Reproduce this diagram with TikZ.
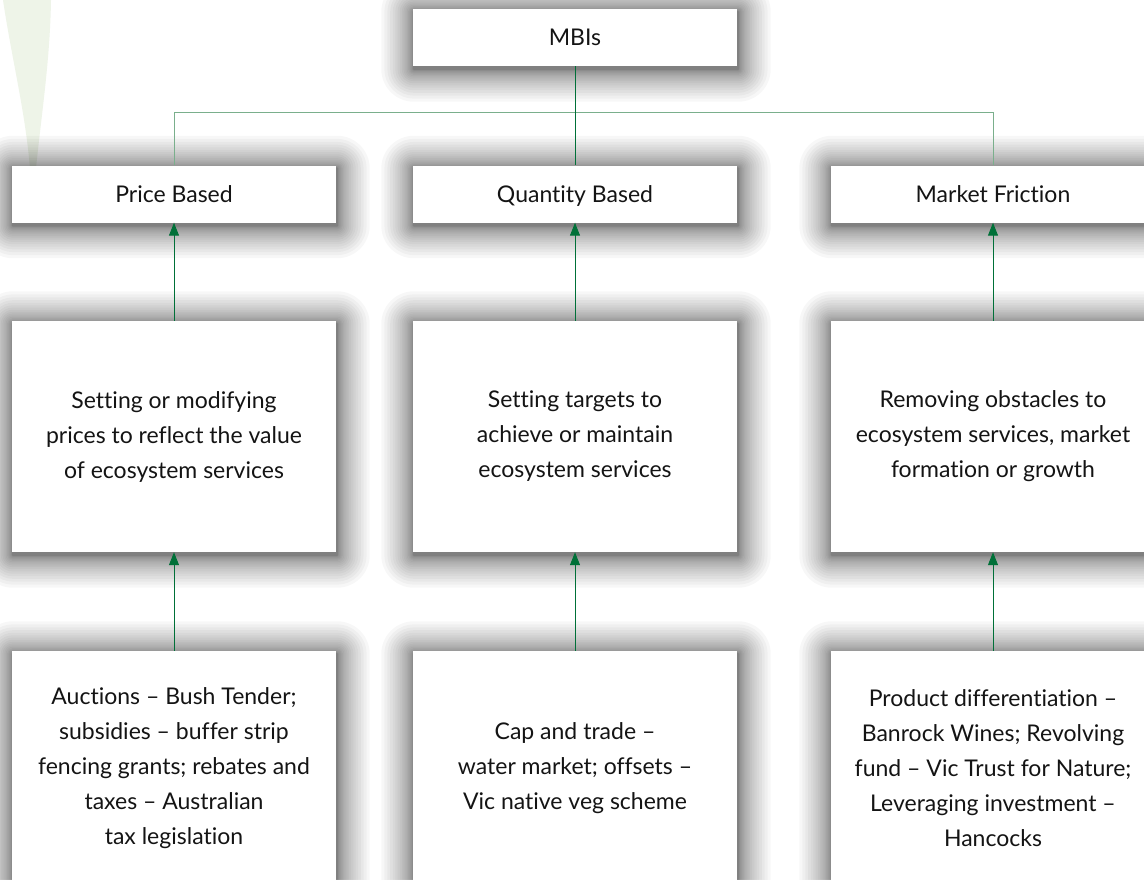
\documentclass[tikz,border=0pt]{standalone}
\usepackage{fontspec}
\setmainfont{Lato}[Ligatures={NoCommon,NoRare,NoDiscretionary}]
\usetikzlibrary{arrows.meta,backgrounds}
\definecolor{dgreen}{RGB}{0,112,56}
\definecolor{lgreen}{RGB}{122,175,140}
\definecolor{leaf}{RGB}{238,244,232}
\definecolor{txt}{RGB}{20,20,20}
\tikzset{
  box/.style={draw=none, fill=white, minimum width=324pt, text=txt, align=center,
    font=\fontsize{23pt}{35pt}\selectfont, inner sep=0pt},
  topbox/.style={box, minimum height=57pt, text height=16pt, text depth=0pt},
  midbox/.style={box, minimum height=231pt},
  lowbox/.style={box, minimum height=234pt},
  up/.style={draw=dgreen, line width=1pt, -{Triangle[length=13pt,width=10pt]}},
  tie/.style={draw=lgreen, line width=1pt},
  link/.style={draw=dgreen, line width=1pt},
  glow/.style={fill=black, fill opacity=0.03, draw=none},
}
\begin{document}
\begin{tikzpicture}[x=1pt,y=-1pt]
\useasboundingbox (0,0) rectangle (1144,879);
\clip (0,0) rectangle (1144,879);
\node[topbox] (mbi) at (575,37.5) {MBIs};
\node[topbox] (price) at (174,194) {Price Based};
\node[topbox] (quant) at (575,194) {Quantity Based};
\node[topbox] (fric) at (993,194) {Market Friction};
\node[midbox] (pm) at (174,436.5) {Setting or modifying\\prices to reflect the value\\of ecosystem services};
\node[midbox] (qm) at (575,436.5) {Setting targets to\\achieve or maintain\\ecosystem services};
\node[midbox] (fm) at (993,436.5) {Removing obstacles to\\ecosystem services, market\\formation or growth};
\node[lowbox] (pl) at (174,768) {Auctions – Bush Tender;\\subsidies – buffer strip\\fencing grants; rebates and\\taxes – Australian\\tax legislation};
\node[lowbox] (ql) at (575,768) {Cap and trade –\\water market; offsets –\\Vic native veg scheme};
\node[lowbox] (fl) at (993,768) {Product differentiation –\\Banrock Wines; Revolving\\fund – Vic Trust for Nature;\\Leveraging investment –\\Hancocks};
\begin{scope}[on background layer]
\fill[white] (0,0) rectangle (1144,879);
\fill[leaf] (3,0) .. controls (12,60) and (25,110) .. (30,168) -- (36,168) .. controls (42,110) and (50,60) .. (51,0) -- cycle;
\foreach \n in {mbi,price,quant,fric,pm,qm,fm,pl,ql,fl}{
  \foreach \k in {1,...,20}{
    \pgfmathsetmacro\r{0.5+32*(\k/20)^2}
    \fill[glow, rounded corners=\r pt] ([xshift=-\r pt+1pt, yshift=\r pt-3pt]\n.north west) rectangle ([xshift=\r pt+1pt, yshift=-\r pt-3pt]\n.south east);
  }
}
\end{scope}
\coordinate (hl) at (174,112);
\coordinate (hr) at (993,112);
\draw[tie] (price.north) -- (hl) -- (hr) -- (fric.north);
\draw[link] (mbi.south) -- (quant.north);
\draw[up] (pm.north) -- (price.south);
\draw[up] (qm.north) -- (quant.south);
\draw[up] (fm.north) -- (fric.south);
\draw[up] (pl.north) -- (pm.south);
\draw[up] (ql.north) -- (qm.south);
\draw[up] (fl.north) -- (fm.south);
\end{tikzpicture}
\end{document}
